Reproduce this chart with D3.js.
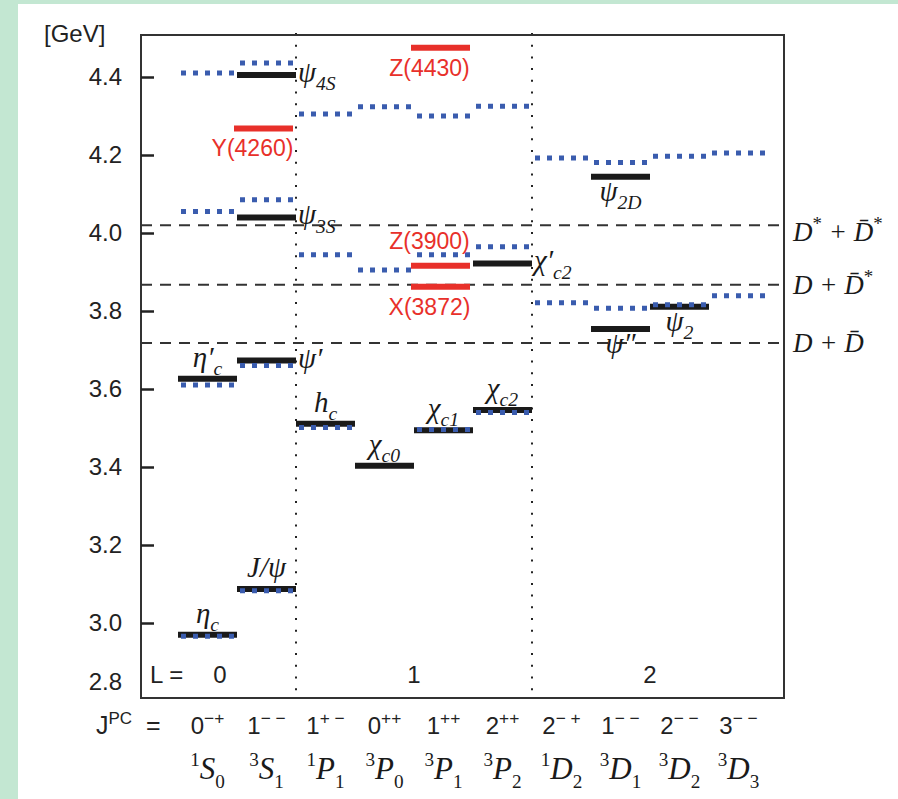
<!DOCTYPE html>
<html>
<head>
<meta charset="utf-8">
<script src="https://cdn.jsdelivr.net/npm/d3@7"></script>
<style>
  body { margin: 0; background: #c3e7d2; }
  svg { display: block; }
  .sans { font-family: "Liberation Sans", Arial, sans-serif; fill: #222; }
  .math { font-family: "Liberation Serif", "DejaVu Serif", serif; font-style: italic; fill: #1a1a1a; }
</style>
</head>
<body>
<svg id="levelSVG" width="898" height="799"></svg>
<script>
// spectroscopic columns
var states = ["1S0", "3S1", "1P1", "3P0", "3P1", "3P2", "1D2", "3D1", "3D2", "3D3"];
var jpcLabels = ["0^{−+}", "1^{− −}", "1^{+ −}", "0^{++}", "1^{++}", "2^{++}", "2^{− +}", "1^{− −}", "2^{− −}", "3^{− −}"];
var termLabels = ["^{1}S_{0}", "^{3}S_{1}", "^{1}P_{1}", "^{3}P_{0}", "^{3}P_{1}", "^{3}P_{2}", "^{1}D_{2}", "^{3}D_{1}", "^{3}D_{2}", "^{3}D_{3}"];

// potential model predictions (blue dotted)
var theoryState = [0, 0, 0, 0, 1, 1, 1, 1, 2, 2, 2, 3, 3, 4, 4, 4, 5, 5, 5, 6, 6, 7, 7, 8, 8, 9, 9];
var theoryMass = [2.966, 3.610, 4.055, 4.410, 3.083, 3.660, 4.085, 4.436, 3.501, 3.944, 4.305, 3.905, 4.324,
                  3.496, 3.944, 4.300, 3.540, 3.965, 4.325, 3.821, 4.192, 3.807, 4.181, 3.816, 4.197, 3.839, 4.205];

// observed charmonia (black)
var expState = [0, 0, 1, 1, 1, 1, 2, 3, 4, 5, 5, 7, 7, 8];
var expMass = [2.970, 3.626, 3.087, 3.673, 4.040, 4.405, 3.511, 3.403, 3.494, 3.546, 3.922, 3.754, 4.144, 3.811];
var expName = ["η_{c}", "η′_{c}", "J/ψ", "ψ′", "ψ_{3S}", "ψ_{4S}", "h_{c}", "χ_{c0}", "χ_{c1}", "χ_{c2}", "χ′_{c2}", "ψ″", "ψ_{2D}", "ψ_{2}"];
var expSide = ["above", "above", "above", "right", "right", "right", "above", "above", "above", "above", "right", "below", "below", "below"];

// exotic XYZ states (red)
var exoticState = [1, 4, 4, 4];
var exoticMass = [4.268, 4.475, 3.916, 3.862];
var exoticName = ["Y(4260)", "Z(4430)", "Z(3900)", "X(3872)"];
var exoticSide = ["below", "below", "above", "below"];

// open charm thresholds
var thresholdMass = [4.020, 3.867, 3.718];
var thresholdName = ["D^{*} + D\u0304^{*}", "D + D\u0304^{*}", "D + D\u0304"];

// orbital groups
var groupL = ["0", "1", "2"];
var groupFirst = [0, 2, 6];
var groupLast = [1, 5, 9];

var yTicks = [2.8, 3.0, 3.2, 3.4, 3.6, 3.8, 4.0, 4.2, 4.4];

var svg = d3.select("svg#levelSVG"),
    margin = {top: 35, right: 114, bottom: 101, left: 141},
    width = +svg.attr("width") - margin.left - margin.right,
    height = +svg.attr("height") - margin.top - margin.bottom;

// white panel on the green page
svg.append("rect")
    .attr("x", 18).attr("y", 4)
    .attr("width", 898 - 18).attr("height", 799 - 4)
    .attr("fill", "#fff");

var x = d3.scaleBand().domain(d3.range(states.length)).range([37, 627]),
    y = d3.scaleLinear().domain([3.0, 4.4]).range([588, 42]);

var g = svg.append("g")
    .attr("transform", "translate(" + margin.left + "," + margin.top + ")");

// text with _{sub} and ^{sup} pieces
function rich(text, str, small, upright) {
  var re = /([_^])\{([^}]*)\}|([^_^]+)/g, m, cur = 0;
  var size = parseFloat(text.attr("font-size"));
  while ((m = re.exec(str)) !== null) {
    var t = text.append("tspan");
    if (m[3]) {
      t.text(m[3]).attr("dy", -cur);
      cur = 0;
    } else {
      var off = (m[1] === "_" ? 0.28 : -0.42) * size;
      t.text(m[2]).attr("font-size", size * (small || 0.7)).attr("dy", off - cur);
      if (upright) t.style("font-style", "normal");
      cur = off;
    }
  }
  return text;
}

// thresholds
g.selectAll(".threshold").data(thresholdMass).enter().append("line")
    .attr("class", "threshold")
    .attr("x1", 0).attr("x2", width)
    .attr("y1", function(d) { return y(d); })
    .attr("y2", function(d) { return y(d); })
    .attr("stroke", "#333").attr("stroke-width", 2)
    .attr("stroke-dasharray", "11,8");

thresholdMass.forEach(function(d, i) {
  rich(g.append("text").attr("class", "math")
      .attr("x", width + 9).attr("y", y(d) + (i === 0 ? 16 : 9))
      .attr("font-size", 27), thresholdName[i], 0.7, true);
});

// L boundaries
[groupFirst[1], groupFirst[2]].forEach(function(c) {
  g.append("line")
      .attr("x1", x(c)).attr("x2", x(c))
      .attr("y1", -2).attr("y2", height)
      .attr("stroke", "#222").attr("stroke-width", 2)
      .attr("stroke-dasharray", "2,9.7");
});

// observed levels
g.selectAll(".exp").data(expMass).enter().append("line")
    .attr("class", "exp")
    .attr("x1", function(d, i) { return x(expState[i]); })
    .attr("x2", function(d, i) { return x(expState[i]) + x.bandwidth(); })
    .attr("y1", function(d) { return y(d); })
    .attr("y2", function(d) { return y(d); })
    .attr("stroke", "#1a1a1a").attr("stroke-width", 6);

// exotic levels
g.selectAll(".exotic").data(exoticMass).enter().append("line")
    .attr("class", "exotic")
    .attr("x1", function(d, i) { return x(exoticState[i]) - 3; })
    .attr("x2", function(d, i) { return x(exoticState[i]) + x.bandwidth() - 3; })
    .attr("y1", function(d) { return y(d); })
    .attr("y2", function(d) { return y(d); })
    .attr("stroke", "#e8302a").attr("stroke-width", 6);

// model levels
g.selectAll(".theory").data(theoryMass).enter().append("line")
    .attr("class", "theory")
    .attr("x1", function(d, i) { return x(theoryState[i]) + 3; })
    .attr("x2", function(d, i) { return x(theoryState[i]) + x.bandwidth(); })
    .attr("y1", function(d) { return y(d); })
    .attr("y2", function(d) { return y(d); })
    .attr("stroke", "#3a5cae").attr("stroke-width", 5)
    .attr("stroke-dasharray", "5,7");

// state names
expMass.forEach(function(d, i) {
  var c = expState[i], t = g.append("text").attr("class", "math").attr("font-size", 29);
  if (expSide[i] === "right") {
    t.attr("x", x(c) + x.bandwidth() + 2).attr("y", y(d) + 7);
  } else if (expSide[i] === "above") {
    t.attr("x", x(c) + x.bandwidth() / 2).attr("y", y(d) - 12).attr("text-anchor", "middle");
  } else {
    t.attr("x", x(c) + x.bandwidth() / 2).attr("y", y(d) + 24).attr("text-anchor", "middle");
  }
  rich(t, expName[i], 0.68);
});

exoticMass.forEach(function(d, i) {
  g.append("text").attr("class", "sans")
      .attr("x", x(exoticState[i]) + x.bandwidth() / 2 - 14)
      .attr("y", exoticSide[i] === "above" ? y(d) - 17 : y(d) + 28)
      .attr("text-anchor", "middle")
      .attr("font-size", 23)
      .style("fill", "#e8302a")
      .text(exoticName[i]);
});

// frame
g.append("rect")
    .attr("width", width).attr("height", height)
    .attr("fill", "none").attr("stroke", "#333").attr("stroke-width", 2);

// y axis
var yAxis = g.append("g")
    .attr("class", "axis axis--y")
    .call(d3.axisLeft(y).tickValues(yTicks).tickSizeInner(-13).tickSizeOuter(0).tickPadding(19)
      .tickFormat(d3.format(".1f")));
yAxis.select(".domain").remove();
yAxis.selectAll("line").attr("stroke", "#222").attr("stroke-width", 2.5);
yAxis.selectAll("text")
    .attr("font-family", "Liberation Sans, Arial, sans-serif")
    .attr("font-size", 24).attr("fill", "#222");
yAxis.selectAll(".tick").filter(function(d) { return d < 2.9; })
    .select("text").attr("dy", "-0.5em");
yAxis.selectAll(".tick").filter(function(d) { return d < 2.9; })
    .select("line").remove();

svg.append("text").attr("class", "sans")
    .attr("x", 44).attr("y", 42)
    .attr("font-size", 24)
    .text("[GeV]");

// L labels
g.append("text").attr("class", "sans")
    .attr("x", 9).attr("y", height - 15)
    .attr("font-size", 24)
    .text("L =");
groupL.forEach(function(l, i) {
  var cx = (x(groupFirst[i]) + x(groupLast[i]) + x.bandwidth()) / 2;
  if (i === 0) cx = x(groupFirst[i]) + 42;
  g.append("text").attr("class", "sans")
      .attr("x", cx).attr("y", height - 15)
      .attr("text-anchor", "middle")
      .attr("font-size", 24)
      .text(l);
});

// J^PC row
rich(svg.append("text").attr("class", "sans")
    .attr("x", 96).attr("y", 734).attr("font-size", 25), "J^{PC}", 0.68);
svg.append("text").attr("class", "sans")
    .attr("x", 146).attr("y", 734).attr("font-size", 25)
    .text("=");

jpcLabels.forEach(function(s, i) {
  rich(g.append("text").attr("class", "sans")
      .attr("x", x(i) + x.bandwidth() / 2).attr("y", 734 - margin.top)
      .attr("text-anchor", "middle")
      .attr("font-size", 24), s, 0.72);
});

termLabels.forEach(function(s, i) {
  rich(g.append("text").attr("class", "math")
      .attr("x", x(i) + x.bandwidth() / 2).attr("y", 779 - margin.top)
      .attr("text-anchor", "middle")
      .attr("font-size", 31), s, 0.62, true);
});
</script>
</body>
</html>
